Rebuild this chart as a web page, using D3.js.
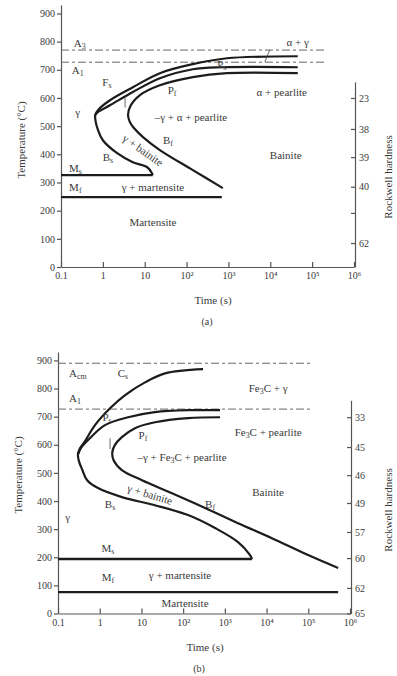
<!DOCTYPE html>
<html>
<head>
<meta charset="utf-8">
<script src="https://cdn.jsdelivr.net/npm/d3@7"></script>
<style>
body { margin: 0; background: #fff; }
svg text { font-family: "Liberation Serif", "DejaVu Serif", serif; fill: #3a3a3a; }
</style>
</head>
<body>
<svg id="chart" width="397" height="676"></svg>
<script>
// shared axis values
var timeTicks = [0.1, 1, 10, 100, 1000, 1e4, 1e5, 1e6];
var timeTickLabels = ["0.1", "1", "10", "10²", "10³", "10⁴", "10⁵", "10⁶"];
var tempTicks = [0, 100, 200, 300, 400, 500, 600, 700, 800, 900];

// (a) 1050 steel : [time s, temperature C]
var aFsCurve = [[45300, 748], [916, 741], [141, 720], [23, 688], [5.2, 638], [1.48, 592], [0.8, 560], [0.66, 540],
    [0.67, 518], [0.75, 490], [1.0, 450], [2.2, 404], [5.2, 372], [11.3, 355], [14.9, 333], [15.5, 326]];
var aPsCurve = [[45300, 709], [735, 709], [141, 702], [23, 670], [5.2, 621], [1.48, 574], [0.8, 552], [0.66, 540]];
var aPfCurve = [[45300, 688], [916, 688], [141, 674], [23, 645], [7.7, 610], [4.5, 570], [4.0, 540],
    [4.4, 515], [5.4, 495], [9.1, 461], [23, 415], [141, 344], [735, 280]];
var aMs = [[0.1, 326], [15.5, 326]];
var aMf = [[0.1, 248], [695, 248]];
var aA3 = [[0.1, 770], [2.2e5, 770]];
var aA1 = [[0.1, 727], [2.2e5, 727]];
var aHardLabels = ["23", "38", "39", "40", "", "62"];
var aHardTemps = [600, 490, 390, 285, 192, 85];

// (b) 10110 steel
var bCsCurve = [[300, 869], [36.8, 854], [12.2, 822], [4.0, 776], [1.77, 730], [0.77, 670], [0.44, 612], [0.33, 585], [0.30, 565],
    [0.32, 540], [0.38, 512], [0.50, 474], [0.91, 446], [3.4, 414], [21, 385], [131, 350], [582, 304], [2070, 254], [4020, 208], [4490, 194]];
var bPsCurve = [[767, 723], [131, 723], [21, 716], [4.8, 698], [1.34, 670], [0.55, 620], [0.36, 590], [0.30, 565]];
var bPfCurve = [[767, 698], [131, 695], [21, 680], [7.0, 659], [3.4, 627], [2.3, 599], [2.0, 572], [2.15, 545],
    [3.4, 510], [10.3, 474], [54, 428], [335, 375], [2070, 321], [13400, 268], [99000, 208], [5.2e5, 162]];
var bMs = [[0.1, 194], [4490, 194]];
var bMf = [[0.1, 76], [5.2e5, 76]];
var bAcm = [[0.1, 890], [1.1e5, 890]];
var bA1 = [[0.1, 727], [1.1e5, 727]];
var bHardLabels = ["33", "45", "46", "49", "57", "60", "62", "65"];
var bHardTemps = [698, 592, 492, 393, 290, 197, 91, 0];

// annotations: text, time, temperature, rotation
var aNotes = [
    ["A_3", 0.28, 795], ["A_1", 0.25, 699], ["F_s", 1.25, 657], ["P_f", 45, 628], ["P_s", 695, 722],
    ["γ", 0.25, 550], ["–γ + α + pearlite", 127, 532], ["α + pearlite", 18800, 621],
    ["α + γ", 45300, 799], ["Bainite", 23400, 398], ["γ + bainite", 9.1, 415, 35],
    ["B_s", 1.32, 390], ["B_f", 35.8, 451], ["M_s", 0.22, 351], ["M_f", 0.22, 284],
    ["γ + martensite", 15.7, 284], ["Martensite", 15.7, 160]
];
var aLeaders = [[[9700, 770], [7400, 728]], [[3.4, 600], [3.4, 566]]];

var bNotes = [
    ["A_{cm}", 0.30, 854], ["C_s", 3.6, 854], ["A_1", 0.256, 766], ["P_s", 1.5, 698], ["P_f", 10.9, 634],
    ["Fe_3C + γ", 10900, 801], ["Fe_3C + pearlite", 10900, 645], ["–γ + Fe_3C + pearlite", 94, 556],
    ["Bainite", 10900, 432], ["γ + bainite", 16, 424, 17], ["B_s", 1.77, 391], ["B_f", 442, 388],
    ["γ", 0.17, 343], ["M_s", 1.58, 233], ["M_f", 1.58, 130],
    ["γ + martensite", 84, 137], ["Martensite", 111, 37]
];
var bLeaders = [[[1.77, 623], [1.77, 585]]];

var svg = d3.select("#chart");

function richText(sel, str) {
    var parts = str.split(/(_\{[^}]*\}|_.)/);
    var shifted = false;
    parts.forEach(function(p) {
        if (p == "") return;
        if (p[0] == "_") {
            var s = p[1] == "{" ? p.slice(2, -1) : p.slice(1);
            sel.append("tspan").attr("font-size", "0.72em").attr("dy", shifted ? 0 : 3).text(s);
            shifted = true;
        } else {
            sel.append("tspan").attr("dy", shifted ? -3 : 0).text(p);
            shifted = false;
        }
    });
}

function drawPanel(p) {
    var x = d3.scaleLog().domain([0.1, 1e6]).range([p.left, p.right]);
    var y = d3.scaleLinear().domain([0, 930]).range([p.bottom, p.top]);
    var g = svg.append("g");

    var line = d3.line()
        .x(function(d) { return x(d[0]); })
        .y(function(d) { return y(d[1]); });
    var smooth = d3.line()
        .x(function(d) { return x(d[0]); })
        .y(function(d) { return y(d[1]); })
        .curve(d3.curveCatmullRom.alpha(0.5));

    // axes
    var gl = g.append("g")
        .attr("transform", "translate(" + p.left + ",0)")
        .call(d3.axisLeft(y).tickValues(tempTicks).tickSize(4).tickSizeOuter(0).tickPadding(2).tickFormat(d3.format("d")));
    var gb = g.append("g")
        .attr("transform", "translate(0," + p.bottom + ")")
        .call(d3.axisBottom(x).tickValues(timeTicks).tickSizeInner(-5).tickSizeOuter(0).tickPadding(5)
            .tickFormat(function(d, i) { return timeTickLabels[i]; }));
    var yh = d3.scaleLinear().domain([0, p.hardTop]).range([p.bottom, y(p.hardTop)]);
    var gr = g.append("g")
        .attr("transform", "translate(" + (p.right + 1) + ",0)")
        .call(d3.axisRight(yh).tickValues(p.hardTemps).tickSizeInner(-4).tickSizeOuter(0).tickPadding(4)
            .tickFormat(function(d, i) { return p.hardLabels[i]; }));
    [gl, gb, gr].forEach(function(a) {
        a.attr("font-family", null).attr("font-size", 10);
        a.selectAll("path, line").attr("stroke", "#555").attr("stroke-width", 1.2);
    });

    // dashed critical temperatures
    p.dashed.forEach(function(d) {
        g.append("path").attr("d", line(d))
            .attr("fill", "none").attr("stroke", "#666").attr("stroke-width", 1)
            .attr("stroke-dasharray", "8,3,3,3");
    });

    // transformation curves
    p.curves.forEach(function(d) {
        g.append("path").attr("d", smooth(d))
            .attr("fill", "none").attr("stroke", "#1c1c1c").attr("stroke-width", 2.2);
    });
    p.straight.forEach(function(d) {
        g.append("path").attr("d", line(d))
            .attr("fill", "none").attr("stroke", "#1c1c1c").attr("stroke-width", 2.4);
    });
    p.leaders.forEach(function(d) {
        g.append("path").attr("d", line(d))
            .attr("fill", "none").attr("stroke", "#444").attr("stroke-width", 0.8);
    });

    // region labels
    p.notes.forEach(function(n) {
        var t = g.append("text")
            .attr("x", x(n[1]))
            .attr("y", y(n[2]))
            .attr("text-anchor", "middle")
            .attr("dominant-baseline", "central")
            .attr("font-size", 11);
        if (n[3]) t.attr("transform", "rotate(" + n[3] + "," + x(n[1]) + "," + y(n[2]) + ")");
        richText(t, n[0]);
    });

    // titles
    g.append("text")
        .attr("transform", "translate(" + p.ylabelX + "," + p.ylabelY + ") rotate(-90)")
        .attr("text-anchor", "middle")
        .attr("font-size", 11)
        .text("Temperature (°C)");
    g.append("text")
        .attr("transform", "translate(" + p.hlabelX + "," + p.hlabelY + ") rotate(-90)")
        .attr("text-anchor", "middle")
        .attr("font-size", 11)
        .text("Rockwell hardness");
    g.append("text")
        .attr("x", p.xlabelX).attr("y", p.bottom + 37)
        .attr("text-anchor", "middle")
        .attr("font-size", 11)
        .text("Time (s)");
    g.append("text")
        .attr("x", p.xlabelX - 6).attr("y", p.bottom + 58)
        .attr("text-anchor", "middle")
        .attr("font-size", 10)
        .text(p.caption);
}

drawPanel({
    left: 61, right: 354, top: 5, bottom: 267, hardTop: 657,
    hardLabels: aHardLabels, hardTemps: aHardTemps,
    dashed: [aA3, aA1],
    curves: [aFsCurve, aPsCurve, aPfCurve],
    straight: [aMs, aMf],
    leaders: aLeaders,
    notes: aNotes,
    ylabelX: 25, ylabelY: 140, hlabelX: 392, hlabelY: 177,
    xlabelX: 213, caption: "(a)"
});

drawPanel({
    left: 58, right: 350, top: 352, bottom: 613.5, hardTop: 758,
    hardLabels: bHardLabels, hardTemps: bHardTemps,
    dashed: [bAcm, bA1],
    curves: [bCsCurve, bPsCurve, bPfCurve],
    straight: [bMs, bMf],
    leaders: bLeaders,
    notes: bNotes,
    ylabelX: 22, ylabelY: 475, hlabelX: 392, hlabelY: 510,
    xlabelX: 205, caption: "(b)"
});
</script>
</body>
</html>
